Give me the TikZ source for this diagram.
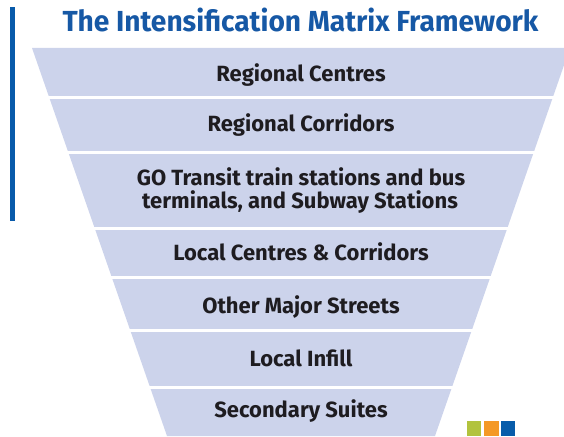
\documentclass[tikz,border=0pt]{standalone}
\usepackage{graphicx}
\usepackage{fontspec}
\setmainfont{Fira Sans}
\usetikzlibrary{calc}
\usepackage{xcolor}
\definecolor{bandblue}{RGB}{204,211,235}
\definecolor{titleblue}{RGB}{22,88,165}
\definecolor{barblue}{RGB}{8,90,170}
\definecolor{sqgreen}{RGB}{178,195,62}
\definecolor{sqorange}{RGB}{244,153,38}
\definecolor{sqblue}{RGB}{8,92,170}
\definecolor{inkgray}{RGB}{30,28,32}

\begin{document}
\begin{tikzpicture}[x=1pt,y=-1pt,
  lbl/.style={anchor=base,inner sep=0pt,text=inkgray,font=\fontsize{22}{22}\selectfont\bfseries}]
\useasboundingbox (0,0) rectangle (564,436);
\fill[barblue] (10,6.7) rectangle (15.3,220.7);
\node[anchor=base,inner sep=0pt,text=titleblue,font=\fontsize{29}{29}\selectfont\bfseries] (title) at (300.5,31.7){\scalebox{0.97}[1]{The Intensification Matrix Framework}};
\fill[bandblue] (32,48) -- (570,48) -- (435,436) -- (167,436) -- cycle;
\foreach \y in {97.7,152.7,228.3,277.3,330.7,387.3}{
  \pgfmathsetmacro\h{269-0.348*(\y-48)+1.5}
  \draw[white,line width=2.5pt] (301-\h,\y) -- (301+\h,\y);}
\node[lbl] (centres) at (301,81){Regional Centres};
\node[lbl] (corridors) at (301,131){Regional Corridors};
\node[lbl] (goline) at (301,185.7){GO Transit train stations and bus};
\node[lbl] (goterm) at (300,208.3){terminals, and Subway Stations};
\node[lbl] (localcc) at (301,260.7){Local Centres \& Corridors};
\node[lbl] (major) at (301,313.3){Other Major Streets};
\node[lbl] (infill) at (301,366){Local Infill};
\node[lbl] (suites) at (301,417.7){Secondary Suites};
\fill[sqgreen] (466.7,421) rectangle (481.3,436);
\fill[sqorange] (484,421) rectangle (498.7,436);
\fill[sqblue] (500.7,421) rectangle (515,436);
\end{tikzpicture}
\end{document}
